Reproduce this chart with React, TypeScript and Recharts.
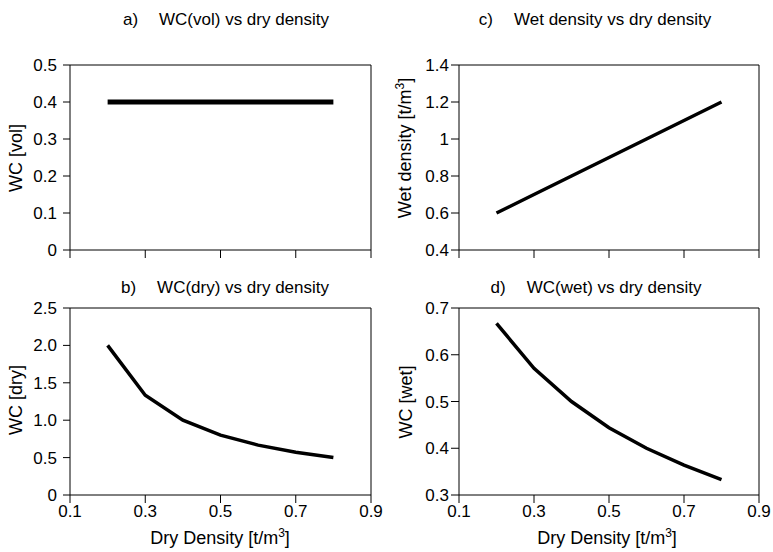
import React from 'react';
import { LineChart, Line, XAxis, YAxis, ReferenceLine, Label } from 'recharts';

const dryDensity = [0.2, 0.3, 0.4, 0.5, 0.6, 0.7, 0.8];
const wcVol = [0.4, 0.4, 0.4, 0.4, 0.4, 0.4, 0.4];
const wetDensity = [0.6, 0.7, 0.8, 0.9, 1.0, 1.1, 1.2];
const wcDry = [2.0, 1.333, 1.0, 0.8, 0.667, 0.571, 0.5];
const wcWet = [0.667, 0.571, 0.5, 0.444, 0.4, 0.364, 0.333];

const xTicks = [0.1, 0.3, 0.5, 0.7, 0.9];
const wcVolTicks = [0, 0.1, 0.2, 0.3, 0.4, 0.5];
const wetTicks = [0.4, 0.6, 0.8, 1, 1.2, 1.4];
const wcDryTicks = [0, 0.5, 1, 1.5, 2, 2.5];
const wcWetTicks = [0.3, 0.4, 0.5, 0.6, 0.7];

const font = '"Liberation Sans", Arial, sans-serif';

const toRows = (ys: number[]) => dryDensity.map((x, i) => ({ x, y: ys[i] }));

type PanelProps = {
  left: number;
  top: number;
  width: number;
  ys: number[];
  yTicks: number[];
  yFormat?: (v: number) => string;
  yAxisWidth: number;
  yTickSize: number;
  yTickMargin: number;
  rightMargin: number;
  topMargin: number;
  bottomAxis: boolean;
  lineWidth: number;
  yLabel: React.ReactNode;
  yLabelX: number;
  yLabelY: number;
  xLabelX?: number;
};

const Panel: React.FC<PanelProps> = (p) => {
  const height = 276;
  const yMin = p.yTicks[0];
  const yMax = p.yTicks[p.yTicks.length - 1];
  return (
    <div style={{ position: 'absolute', left: p.left, top: p.top }}>
      <LineChart
        width={p.width}
        height={height}
        data={toRows(p.ys)}
        margin={{ top: p.topMargin, right: p.rightMargin, left: 0, bottom: 0 }}
      >
        <XAxis
          dataKey="x"
          type="number"
          domain={[0.1, 0.9]}
          ticks={xTicks}
          interval={0}
          height={p.bottomAxis ? 57 : 26}
          tickSize={8}
          tickMargin={2}
          axisLine={{ stroke: '#000' }}
          tickLine={{ stroke: '#000' }}
          tick={{ fill: '#000', fontSize: 17, fontFamily: font }}
          tickFormatter={(v: number) => (p.bottomAxis ? String(v) : '')}
        >
          {p.bottomAxis && (
            <Label
              content={() => (
                <text x={p.xLabelX} y={268} textAnchor="middle" fontSize={18} fontFamily={font} fill="#000">
                  Dry Density [t/m<tspan dy={-7} fontSize={12}>3</tspan>
                  <tspan dy={7}>]</tspan>
                </text>
              )}
            />
          )}
        </XAxis>
        <YAxis
          type="number"
          domain={[yMin, yMax]}
          ticks={p.yTicks}
          interval={0}
          width={p.yAxisWidth}
          tickSize={p.yTickSize}
          tickMargin={p.yTickMargin}
          axisLine={{ stroke: '#000' }}
          tickLine={{ stroke: '#000' }}
          tick={{ fill: '#000', fontSize: 17, fontFamily: font }}
          tickFormatter={p.yFormat}
        >
          <Label
            content={() => (
              <text
                x={p.yLabelX}
                y={p.yLabelY}
                transform={`rotate(-90, ${p.yLabelX}, ${p.yLabelY})`}
                textAnchor="middle"
                fontSize={18}
                fontFamily={font}
                fill="#000"
              >
                {p.yLabel}
              </text>
            )}
          />
        </YAxis>
        <ReferenceLine y={yMax} stroke="#000" />
        <ReferenceLine x={0.9} stroke="#000" />
        <Line
          type="linear"
          dataKey="y"
          stroke="#000"
          strokeWidth={p.lineWidth}
          dot={false}
          isAnimationActive={false}
        />
      </LineChart>
    </div>
  );
};

const Title: React.FC<{ center: number; top: number; tag: string; text: string }> = ({ center, top, tag, text }) => (
  <div
    style={{
      position: 'absolute',
      left: center - 160,
      top,
      width: 320,
      textAlign: 'center',
      fontFamily: font,
      fontSize: 17,
      lineHeight: '17px',
      whiteSpace: 'pre',
      color: '#000',
    }}
  >
    <span>{tag}</span>
    <span style={{ marginLeft: 21 }}>{text}</span>
  </div>
);

const oneDec = (v: number) => (v === 0 ? '0' : v.toFixed(1));

export default function App() {
  return (
    <div style={{ position: 'absolute', left: 0, top: 0, width: 773, height: 552, background: '#fff' }}>
      <Title center={226} top={10.6} tag="a)" text="WC(vol) vs dry density" />
      <Title center={595} top={10.6} tag="c)" text="Wet density vs dry density" />
      <Title center={225} top={278.6} tag="b)" text="WC(dry) vs dry density" />
      <Title center={596} top={278.6} tag="d)" text="WC(wet) vs dry density" />

      <Panel
        left={0}
        top={0}
        width={386}
        ys={wcVol}
        yTicks={wcVolTicks}
        yAxisWidth={70}
        yTickSize={7}
        yTickMargin={6}
        rightMargin={15}
        topMargin={65}
        bottomAxis={false}
        lineWidth={5}
        yLabel="WC [vol]"
        yLabelX={22}
        yLabelY={158}
      />
      <Panel
        left={386}
        top={0}
        width={387}
        ys={wetDensity}
        yTicks={wetTicks}
        yAxisWidth={73}
        yTickSize={8}
        yTickMargin={2}
        rightMargin={14}
        topMargin={65}
        bottomAxis={false}
        lineWidth={3.5}
        yLabel={
          <>
            Wet density [t/m<tspan dy={-7} fontSize={12}>3</tspan>
            <tspan dy={7}>]</tspan>
          </>
        }
        yLabelX={25}
        yLabelY={148}
      />
      <Panel
        left={0}
        top={276}
        width={386}
        ys={wcDry}
        yTicks={wcDryTicks}
        yFormat={oneDec}
        yAxisWidth={70}
        yTickSize={7}
        yTickMargin={6}
        rightMargin={15}
        topMargin={32}
        bottomAxis={true}
        lineWidth={3.5}
        yLabel="WC [dry]"
        yLabelX={22}
        yLabelY={124}
        xLabelX={220}
      />
      <Panel
        left={386}
        top={276}
        width={387}
        ys={wcWet}
        yTicks={wcWetTicks}
        yFormat={(v: number) => v.toFixed(1)}
        yAxisWidth={73}
        yTickSize={8}
        yTickMargin={2}
        rightMargin={14}
        topMargin={32}
        bottomAxis={true}
        lineWidth={3.5}
        yLabel="WC [wet]"
        yLabelX={26}
        yLabelY={126}
        xLabelX={221}
      />
    </div>
  );
}
